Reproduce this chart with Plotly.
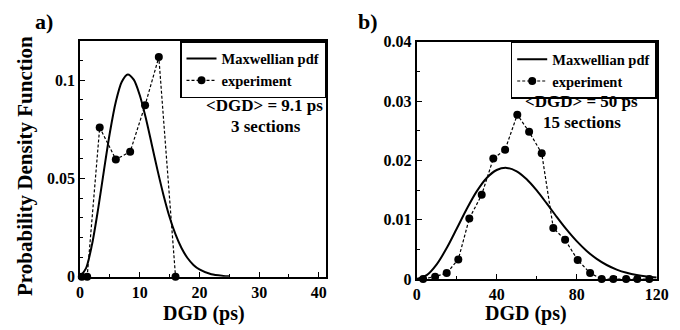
import plotly.graph_objects as go

# The page body has an 8 px margin, so the figure is drawn 8 px smaller and all
# layout positions below are given in window pixels and shifted by that offset.
OFF = 8
W, H = 680 - OFF, 330 - OFF

# ---------------- data ----------------
# panel a) <DGD> = 9.1 ps, 3 sections
a_pdf_x = [0, 1, 2, 3, 4, 5, 6, 7, 8, 9, 10, 11, 12, 13, 14, 15, 16, 17, 18, 19, 20, 22, 24, 25]
a_pdf_y = [0, 0.0042, 0.0162, 0.0338, 0.0539, 0.0733, 0.0891, 0.0993, 0.1030, 0.1003, 0.0925,
           0.0810, 0.0676, 0.0540, 0.0414, 0.0304, 0.0215, 0.0146, 0.0095, 0.0060, 0.0037,
           0.0012, 0.0004, 0.0002]
a_exp_x = [0.3, 1.2, 3.3, 6.0, 8.4, 10.9, 13.2, 16.0]
a_exp_y = [0, 0, 0.0760, 0.0597, 0.0636, 0.0873, 0.1118, 0]

# panel b) <DGD> = 50 ps, 15 sections
b_pdf_x = [0, 5, 10, 15, 20, 25, 30, 35, 40, 45, 50, 55, 60, 65, 70, 75, 80, 85, 90, 95,
           100, 105, 110, 115, 120]
b_pdf_y = [0, 0.00064, 0.00247, 0.00521, 0.00847, 0.01180, 0.01477, 0.01703, 0.01837,
           0.01873, 0.01816, 0.01681, 0.01493, 0.01274, 0.01048, 0.00832, 0.00638, 0.00473,
           0.00339, 0.00236, 0.00159, 0.00104, 0.00066, 0.00041, 0.00024]
b_exp_x = [3.2, 9.2, 15.0, 20.8, 26.3, 32.5, 38.3, 44.2, 50.3, 56.2, 62.5, 68.3, 74.2, 80.5,
           86.7, 92.5, 98.3, 104.7, 110.3, 116.3]
b_exp_y = [0, 0.0004, 0.0010, 0.0033, 0.0102, 0.0142, 0.0203, 0.0218, 0.0277, 0.0248, 0.0212,
           0.0086, 0.0066, 0.0032, 0.0010, 0, 0, 0, 0, 0]

a_xticks = [0, 10, 20, 30, 40]
a_yticks = [0, 0.05, 0.1]
a_yticklabels = ["0", "0.05", "0.1"]
b_xticks = [0, 40, 80, 120]
b_yticks = [0, 0.01, 0.02, 0.03, 0.04]
b_yticklabels = ["0", "0.01", "0.02", "0.03", "0.04"]

legend_names = ["Maxwellian pdf", "experiment"]

# ---------------- helpers ----------------
def px(x):
    return (x - OFF) / W

def py(y):
    return 1 - (y - OFF) / H

FONT = "Liberation Serif"

fig = go.Figure()

for (pdf_x, pdf_y, ex_x, ex_y, xa, ya, lg) in [
    (a_pdf_x, a_pdf_y, a_exp_x, a_exp_y, "x", "y", "legend"),
    (b_pdf_x, b_pdf_y, b_exp_x, b_exp_y, "x2", "y2", "legend2"),
]:
    fig.add_trace(go.Scatter(
        x=pdf_x, y=pdf_y, mode="lines", name=legend_names[0],
        line=dict(color="black", width=2, shape="spline", smoothing=0.8),
        xaxis=xa, yaxis=ya, legend=lg, cliponaxis=False))
    fig.add_trace(go.Scatter(
        x=ex_x, y=ex_y, mode="lines+markers", name=legend_names[1],
        line=dict(color="black", width=1.2, dash="3px,2px"),
        marker=dict(color="black", size=8, symbol="circle"),
        xaxis=xa, yaxis=ya, legend=lg, cliponaxis=False))

axis_common = dict(
    showline=True, linecolor="black", linewidth=1.8, mirror=True,
    ticks="inside", ticklen=5, tickwidth=1, tickcolor="black",
    showgrid=False, zeroline=False, automargin=False,
    tickfont=dict(family=FONT, size=16, color="black", weight="bold"),
)

legend_common = dict(
    xanchor="right", yanchor="top",
    bgcolor="white", bordercolor="black", borderwidth=1.5,
    font=dict(family=FONT, size=14.5, color="black", weight="bold"),
    itemwidth=30, tracegroupgap=0,
)

fig.update_layout(
    template="none",
    width=W, height=H,
    margin=dict(l=0, r=0, t=0, b=0, pad=0, autoexpand=False),
    paper_bgcolor="white", plot_bgcolor="white",
    font=dict(family=FONT, color="black", weight="bold"),
    xaxis=dict(domain=[px(80), px(326)], range=[0, 41.2], anchor="y",
               tickvals=a_xticks, ticklabelstandoff=0,
               minor=dict(dtick=5, ticks="inside", ticklen=3, tickcolor="black"),
               **axis_common),
    yaxis=dict(domain=[py(276.7), py(41)], range=[0, 0.12], anchor="x",
               tickvals=a_yticks, ticktext=a_yticklabels, ticklabelstandoff=0,
               minor=dict(dtick=0.01, ticks="inside", ticklen=3, tickcolor="black"),
               **axis_common),
    xaxis2=dict(domain=[px(416.7), px(656.7)], range=[0, 120], anchor="y2",
                tickvals=b_xticks, ticklabelstandoff=0,
                minor=dict(dtick=20, ticks="inside", ticklen=3, tickcolor="black"),
                **axis_common),
    yaxis2=dict(domain=[py(279), py(41.7)], range=[0, 0.04], anchor="x2",
                tickvals=b_yticks, ticktext=b_yticklabels, ticklabelstandoff=0,
                minor=dict(dtick=0.005, ticks="inside", ticklen=3, tickcolor="black"),
                **axis_common),
    legend=dict(x=px(326), y=py(41), **legend_common),
    legend2=dict(x=px(656.7), y=py(41.7), **legend_common),
    showlegend=True,
)

def text(x, y, s, size=17, angle=0):
    fig.add_annotation(x=px(x), y=py(y), xref="paper", yref="paper", text=s,
                       showarrow=False, xanchor="center", yanchor="middle",
                       textangle=angle,
                       font=dict(family=FONT, size=size, color="black", weight="bold"))

text(44, 21, "a)", size=22)
text(367.5, 21, "b)", size=22)
text(25, 166, "Probability Density Function", size=21, angle=-90)
text(204, 313, "DGD (ps)", size=20)
text(526, 313, "DGD (ps)", size=20)
text(264, 105, "&lt;DGD&gt; = 9.1 ps")
text(266, 127, "3 sections")
text(581, 101, "&lt;DGD&gt; = 50 ps")
text(582, 122, "15 sections")

fig.write_html("out.html")
